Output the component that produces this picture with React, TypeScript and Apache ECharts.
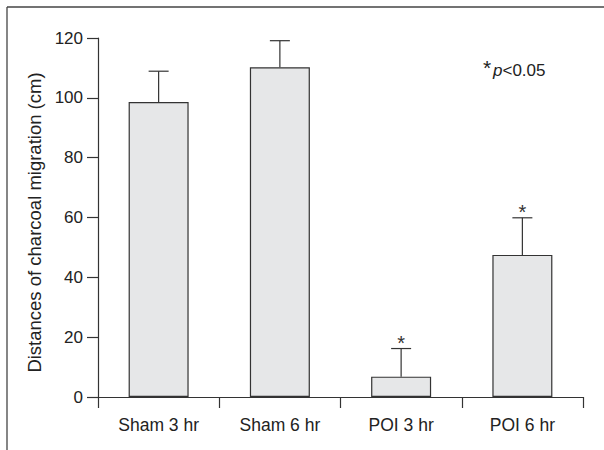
import React, { useEffect, useRef } from "react";
import * as echarts from "echarts";

const categories = ["Sham 3 hr", "Sham 6 hr", "POI 3 hr", "POI 6 hr"];
const means = [98.6, 110.2, 6.8, 47.5];
const errors = [10.3, 8.9, 9.4, 12.4];
const significant = [false, false, true, true];
const yTicks = { min: 0, max: 120, interval: 20 };

const AXIS = "#333333";
const FONT = "'Liberation Sans', Arial, sans-serif";

export default function App() {
  const ref = useRef<HTMLDivElement>(null);
  useEffect(() => {
    document.body.style.margin = "0";
    const chart = echarts.init(ref.current!, null, { renderer: "svg" });
    const errData = means.map((m, i) => [i, m, m + errors[i], significant[i] ? 1 : 0]);
    chart.setOption({
      animation: false,
      backgroundColor: "#ffffff",
      grid: { left: 98, right: 21, top: 38, bottom: 53, containLabel: false },
      xAxis: {
        type: "category",
        data: categories,
        axisLine: { show: true, lineStyle: { color: AXIS, width: 1.2 } },
        axisTick: { show: true, length: 11, alignWithLabel: false, lineStyle: { color: AXIS, width: 1.2 } },
        axisLabel: { color: "#222", fontFamily: FONT, fontSize: 17.5, margin: 19 },
        splitLine: { show: false },
      },
      yAxis: {
        type: "value",
        min: yTicks.min,
        max: yTicks.max,
        interval: yTicks.interval,
        name: "Distances of charcoal migration (cm)",
        nameLocation: "middle",
        nameGap: 52,
        nameTextStyle: { color: "#222", fontFamily: FONT, fontSize: 18.5, padding: [0, 0, 0, -10] },
        axisLine: { show: true, lineStyle: { color: AXIS, width: 1.2 } },
        axisTick: { show: true, length: 11, lineStyle: { color: AXIS, width: 1.2 } },
        axisLabel: { color: "#222", fontFamily: FONT, fontSize: 17, margin: 15 },
        splitLine: { show: false },
      },
      series: [
        {
          type: "bar",
          data: means,
          barWidth: 60,
          itemStyle: { color: "#e6e7e8", borderColor: "#333", borderWidth: 1.2 },
          z: 2,
        },
        {
          type: "custom",
          data: errData,
          z: 3,
          renderItem: (params: any, api: any) => {
            const i = api.value(0);
            const base = api.coord([i, api.value(1)]);
            const top = api.coord([i, api.value(2)]);
            const half = 10;
            const children: any[] = [
              { type: "line", shape: { x1: base[0], y1: base[1], x2: top[0], y2: top[1] }, style: { stroke: "#333", lineWidth: 1.2 } },
              { type: "line", shape: { x1: top[0] - half, y1: top[1], x2: top[0] + half, y2: top[1] }, style: { stroke: "#333", lineWidth: 1.2 } },
            ];
            if (api.value(3) === 1) {
              children.push({
                type: "text",
                style: {
                  text: "*",
                  x: top[0],
                  y: top[1] - 6,
                  align: "center",
                  verticalAlign: "middle",
                  fill: "#333",
                  font: `20px ${FONT}`,
                },
              });
            }
            return { type: "group", children };
          },
        },
      ],
      graphic: [
        { type: "line", shape: { x1: 7, y1: 7, x2: 604, y2: 7 }, style: { stroke: "#444", lineWidth: 1.3 } },
        { type: "line", shape: { x1: 7, y1: 7, x2: 7, y2: 450 }, style: { stroke: "#444", lineWidth: 1.3 } },
        {
          type: "text",
          left: 483,
          top: 57,
          style: { text: "*", fill: "#222", font: `21px ${FONT}` },
        },
        {
          type: "text",
          left: 493,
          top: 62,
          style: {
            text: "{i|p}<0.05",
            fill: "#222",
            font: `17px ${FONT}`,
            rich: { i: { fontStyle: "italic", fontSize: 17, fontFamily: FONT, fill: "#222" } },
          },
        },
      ],
    });
    return () => chart.dispose();
  }, []);
  return <div ref={ref} style={{ width: 604, height: 450 }} />;
}
